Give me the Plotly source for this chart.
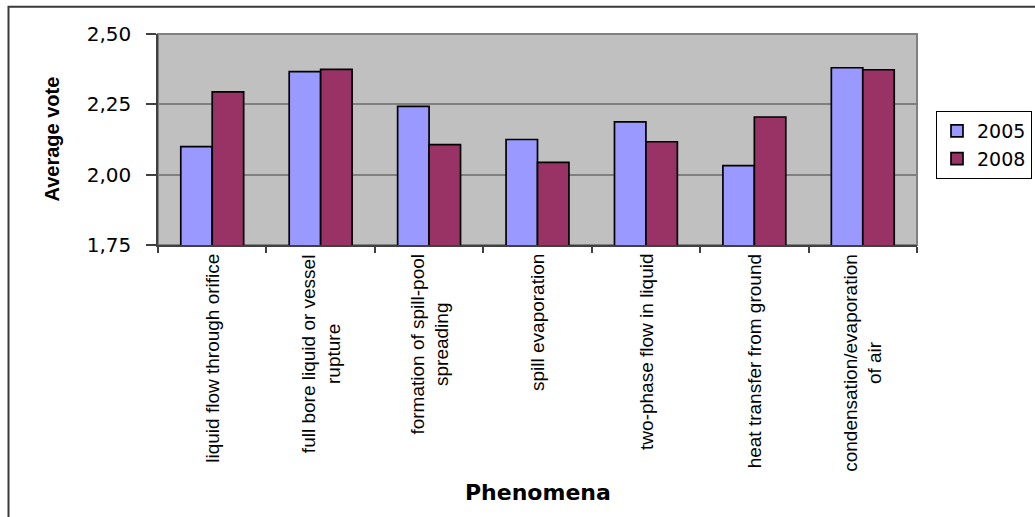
import plotly.graph_objects as go

# Phenomena (x categories); <br> marks where a label wraps onto a second line
labels = [
    "liquid flow through orifice",
    "full bore liquid or vessel<br>rupture",
    "formation of spill-pool<br>spreading",
    "spill evaporation",
    "two-phase flow in liquid",
    "heat transfer from ground",
    "condensation/evaporation<br>of air",
]
categories = [s.replace("<br>", " ") for s in labels]

years = ["2005", "2008"]
votes_2005 = [2.100, 2.366, 2.243, 2.125, 2.188, 2.032, 2.380]
votes_2008 = [2.294, 2.374, 2.107, 2.044, 2.117, 2.205, 2.373]
y_ticks = [1.75, 2.00, 2.25, 2.50]

W, H = 1035, 517
ML, MR, MT, MB = 158, 118, 34, 272
PW, PH = W - ML - MR, H - MT - MB


def px_x(px):
    return (px - ML) / PW


def px_y(py):
    return (H - MB - py) / PH


fig = go.Figure()
for name, vals, color in [(years[0], votes_2005, "#9999FF"),
                          (years[1], votes_2008, "#993366")]:
    fig.add_trace(go.Bar(
        x=categories, y=vals, name=name,
        marker=dict(color=color, line=dict(color="#000000", width=1.7)),
    ))

# category labels, rotated and centred line by line
for cat, lab in zip(categories, labels):
    fig.add_annotation(
        x=cat, xref="x", y=0, yref="paper", yanchor="top", xanchor="center",
        yshift=-8, text=lab, textangle=-90, align="center", showarrow=False,
        borderpad=0,
        font=dict(family="Liberation Sans", size=19, color="#000000"),
    )

# axis titles
fig.add_annotation(
    x=px_x(51), xref="paper", y=0.5, yref="paper", xanchor="center",
    yanchor="middle", text="<b>Average vote</b>", textangle=-90,
    showarrow=False, borderpad=0,
    font=dict(family="Liberation Sans", size=20, color="#000000"),
)
fig.add_annotation(
    x=0.5, xref="paper", y=px_y(492), yref="paper", xanchor="center",
    yanchor="middle", text="<b>Phenomena</b>", showarrow=False, borderpad=0,
    font=dict(family="DejaVu Sans", size=22, color="#000000"),
)

# plot-area frame and outer chart frame
fig.add_shape(type="rect", xref="paper", yref="paper", x0=0, x1=1, y0=0, y1=1,
              line=dict(color="#808080", width=2), layer="below")
fig.add_shape(type="rect", xref="paper", yref="paper",
              x0=px_x(8.5), x1=px_x(1045), y0=px_y(530), y1=px_y(6.7),
              line=dict(color="#3a3a3a", width=2), fillcolor="rgba(0,0,0,0)",
              layer="below")

fig.update_layout(
    width=W, height=H,
    margin=dict(l=ML, r=MR, t=MT, b=MB, pad=0, autoexpand=False),
    paper_bgcolor="#FFFFFF",
    plot_bgcolor="#C0C0C0",
    separators=", ",
    barmode="group",
    bargap=0.42,
    bargroupgap=0,
    showlegend=True,
    legend=dict(
        x=px_x(936), xanchor="left", y=px_y(111), yanchor="top",
        bgcolor="#FFFFFF", bordercolor="#000000", borderwidth=1,
        font=dict(family="DejaVu Sans", size=19, color="#000000"),
        itemwidth=30, traceorder="normal",
    ),
    xaxis=dict(
        type="category", showticklabels=False, showgrid=False,
        ticks="outside", tickson="boundaries", ticklen=6, tickwidth=1.5,
        tickcolor="#404040", showline=True, linecolor="#404040", linewidth=1.5,
        fixedrange=True,
    ),
    yaxis=dict(
        range=[y_ticks[0], y_ticks[-1]], tickvals=y_ticks, tickformat=".2f",
        showgrid=True, gridcolor="#808080", gridwidth=2, zeroline=False,
        ticks="outside", ticklen=10, tickwidth=1.5, tickcolor="#404040",
        showline=True, linecolor="#404040", linewidth=1.5,
        ticklabelstandoff=11,
        tickfont=dict(family="DejaVu Sans", size=20, color="#000000"),
        fixedrange=True,
    ),
)

fig.write_html("out.html")
